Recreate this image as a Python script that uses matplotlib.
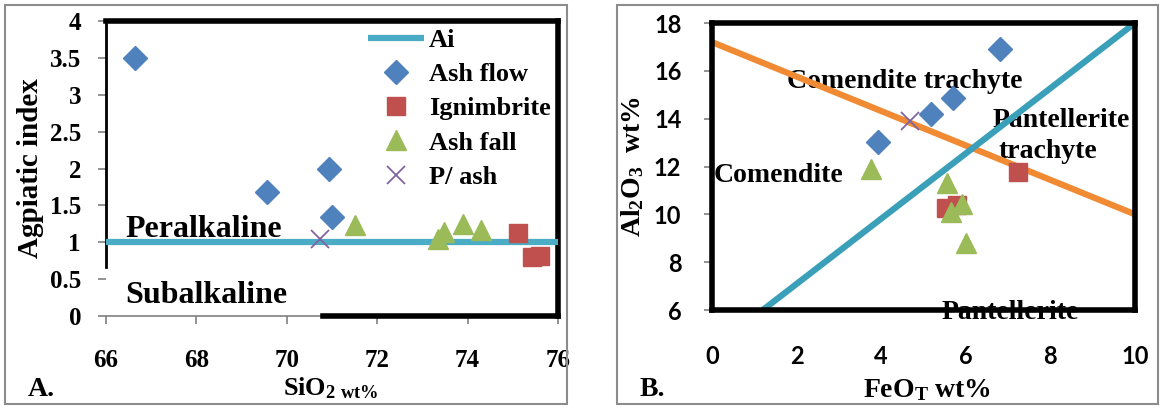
import matplotlib
matplotlib.use("Agg")
import matplotlib.pyplot as plt
from matplotlib.patches import Rectangle
from matplotlib.font_manager import FontProperties

SERIF = "Liberation Serif"
SANS = "Lato"

plt.rcParams["font.family"] = SERIF
plt.rcParams["font.weight"] = "bold"
plt.rcParams["axes.labelweight"] = "bold"
plt.rcParams["mathtext.fontset"] = "custom"
plt.rcParams["mathtext.rm"] = "Liberation Serif:bold"
plt.rcParams["mathtext.it"] = "Liberation Serif:bold"
plt.rcParams["mathtext.bf"] = "Liberation Serif:bold"

# ---- Panel A: agpaitic index vs SiO2 ----
ash_flow_si = [66.65, 69.56, 70.94, 70.99]
ash_flow_ai = [3.50, 1.68, 1.99, 1.34]
ign_si = [75.11, 75.43, 75.61]
ign_ai = [1.13, 0.80, 0.81]
fall_si = [71.51, 73.35, 73.47, 73.89, 74.29]
fall_ai = [1.23, 1.04, 1.14, 1.25, 1.17]
pash_si = [70.74]
pash_ai = [1.04]
ai_line_x = [66, 76]
ai_line_y = [1, 1]
a_xticks = [66, 68, 70, 72, 74, 76]
a_xticklabels = ["66", "68", "70", "72", "74", "76"]
a_yticks = [0, 0.5, 1, 1.5, 2, 2.5, 3, 3.5, 4]
a_yticklabels = ["0", "0.5", "1", "1.5", "2", "2.5", "3", "3.5", "4"]

# ---- Panel B: Al2O3 vs FeOT ----
b_flow_fe = [3.92, 5.18, 5.70, 6.80]
b_flow_al = [13.02, 14.19, 14.86, 16.92]
b_ign_fe = [7.24, 5.54, 5.79]
b_ign_al = [11.77, 10.25, 10.40]
b_fall_fe = [3.77, 5.55, 5.66, 5.92, 6.01]
b_fall_al = [11.90, 11.29, 10.11, 10.43, 8.82]
b_pash_fe = [4.68]
b_pash_al = [13.92]
orange_x = [0, 10]
orange_y = [17.2, 10.0]
cyan_x = [1.2, 10]
cyan_y = [6.0, 18.0]
b_xticks = [0, 2, 4, 6, 8, 10]
b_xticklabels = ["0", "2", "4", "6", "8", "10"]
b_yticks = [6, 8, 10, 12, 14, 16, 18]
b_yticklabels = ["6", "8", "10", "12", "14", "16", "18"]

C_FLOW = "#4F81BD"
C_IGN = "#C0504D"
C_FALL = "#9BBB59"
C_PASH = "#8064A2"
C_AI = "#4BACC6"
C_ORANGE = "#F08A33"
C_CYAN = "#3A9FB8"

MS_D, MS_S, MS_T, MS_X = 12, 13, 14, 13

FP_A_TICK = FontProperties(family=SERIF, weight="bold", size=18)
FP_B_TICK = FontProperties(family=SANS, weight="bold", size=17)
FP_LEG = FontProperties(family=SERIF, weight="bold", size=19)

W, H = 1163, 409
fig = plt.figure(figsize=(W / 100, H / 100), dpi=100)


def fx(px):
    return px / W


def fy(py):
    return 1 - py / H


# panel frames
for x0, x1 in [(5, 567), (617, 1158)]:
    fig.patches.append(Rectangle((fx(x0), fy(404)), fx(x1 - x0), 399 / H,
                                 transform=fig.transFigure, fill=False,
                                 edgecolor="#8c8c8c", lw=1.5))

# ================= Panel A =================
axA = fig.add_axes([fx(106), fy(316), fx(558 - 106), (316 - 21) / H])
axA.set_xlim(66, 76)
axA.set_ylim(0, 4)
axA.plot(ai_line_x, ai_line_y, color=C_AI, lw=4.5, solid_capstyle="butt",
         zorder=3, label="Ai")
axA.plot(ash_flow_si, ash_flow_ai, "D", ms=MS_D, color=C_FLOW, zorder=4,
         label="Ash flow")
axA.plot(ign_si, ign_ai, "s", ms=MS_S, color=C_IGN, zorder=4,
         label="Ignimbrite")
axA.plot(fall_si, fall_ai, "^", ms=MS_T, color=C_FALL, zorder=4,
         label="Ash fall")
axA.plot(pash_si, pash_ai, "x", ms=MS_X, mew=1.3, color=C_PASH, zorder=5,
         label="P/ ash")

axA.set_xticks(a_xticks)
axA.set_xticklabels(a_xticklabels, fontproperties=FP_A_TICK)
axA.set_yticks(a_yticks)
axA.set_yticklabels(a_yticklabels, fontproperties=FP_A_TICK)
axA.tick_params(axis="both", direction="out", length=6, width=1.2,
                color="#808080")
axA.tick_params(axis="x", pad=18)
axA.tick_params(axis="y", pad=12)

for s in ["top", "right"]:
    axA.spines[s].set_linewidth(4)
    axA.spines[s].set_color("black")
axA.spines["left"].set_linewidth(2)
axA.spines["left"].set_color("black")
axA.spines["left"].set_bounds(0.67, 4)
axA.spines["bottom"].set_linewidth(1.2)
axA.spines["bottom"].set_color("#808080")
axA.plot([70.8, 76], [0, 0], color="black", lw=4, clip_on=False, zorder=6,
         solid_capstyle="projecting")

axA.text(66.42, 1.17, "Peralkaline", fontsize=23, fontweight="bold",
         va="center", ha="left", zorder=2)
axA.text(66.42, 0.28, "Subalkaline", fontsize=23, fontweight="bold",
         va="center", ha="left", zorder=2)

leg = axA.legend(loc="upper left", bbox_to_anchor=(0.58, 0.975),
                 frameon=False, prop=FP_LEG, handlelength=2.1,
                 handletextpad=0.2, labelspacing=0.41, borderaxespad=0.0,
                 borderpad=0.0)

axA.set_ylabel("Agpiatic index", fontsize=21, fontweight="bold", labelpad=4)
fig.text(fx(283), fy(395), r"SiO$_{\mathrm{2\ wt\%}}$", fontsize=19,
         fontweight="bold", ha="left", va="baseline")
fig.text(fx(28), fy(396), "A.", fontsize=20, fontweight="bold", ha="left",
         va="baseline")

# ================= Panel B =================
axB = fig.add_axes([fx(712), fy(310), fx(1135 - 712), (310 - 23) / H])
axB.set_xlim(0, 10)
axB.set_ylim(6, 18)
axB.plot(orange_x, orange_y, color=C_ORANGE, lw=4.5, zorder=3,
         solid_capstyle="butt")
axB.plot(cyan_x, cyan_y, color=C_CYAN, lw=4.5, zorder=3,
         solid_capstyle="butt")
axB.plot(b_flow_fe, b_flow_al, "D", ms=MS_D, color=C_FLOW, zorder=4)
axB.plot(b_ign_fe, b_ign_al, "s", ms=MS_S, color=C_IGN, zorder=4)
axB.plot(b_fall_fe, b_fall_al, "^", ms=MS_T, color=C_FALL, zorder=4)
axB.plot(b_pash_fe, b_pash_al, "x", ms=MS_X, mew=1.3, color=C_PASH, zorder=5)

axB.set_xticks(b_xticks)
axB.set_xticklabels(b_xticklabels, fontproperties=FP_B_TICK)
axB.set_yticks(b_yticks)
axB.set_yticklabels(b_yticklabels, fontproperties=FP_B_TICK)
axB.tick_params(axis="y", direction="out", length=6, width=1.2,
                color="#808080", pad=16)
axB.tick_params(axis="x", length=0, pad=25)
for s in axB.spines.values():
    s.set_linewidth(4)
    s.set_color("black")
    s.set_zorder(6)

axB.text(4.55, 15.55, "Comendite trachyte", ha="center", va="center",
         fontsize=20, fontweight="bold", zorder=2)
axB.text(8.25, 13.92, "Pantellerite", ha="center", va="center",
         fontsize=20, fontweight="bold", zorder=2)
axB.text(7.95, 12.64, "trachyte", ha="center", va="center",
         fontsize=20, fontweight="bold", zorder=2)
axB.text(0.03, 11.63, "Comendite", ha="left", va="center", fontsize=20,
         fontweight="bold", zorder=2)
axB.text(7.06, 5.9, "Pantellerite", ha="center", va="center", fontsize=20,
         fontweight="bold", zorder=2)

axB.set_ylabel(r"Al$_2$O$_3$  wt%", fontsize=20, fontweight="bold",
               labelpad=6)
fig.text(fx(863), fy(397), r"FeO$_\mathrm{T}$ wt%", fontsize=20,
         fontweight="bold", ha="left", va="baseline")
fig.text(fx(640), fy(396), "B.", fontsize=20, fontweight="bold", ha="left",
         va="baseline")

# re-apply fonts once the tick and legend text objects exist
fig.canvas.draw()
for ax, fp in [(axA, FP_A_TICK), (axB, FP_B_TICK)]:
    for lab in ax.get_xticklabels() + ax.get_yticklabels():
        lab.set_fontproperties(fp)
for t in leg.get_texts():
    t.set_fontproperties(FP_LEG)

fig.savefig("out.png", dpi=100)
